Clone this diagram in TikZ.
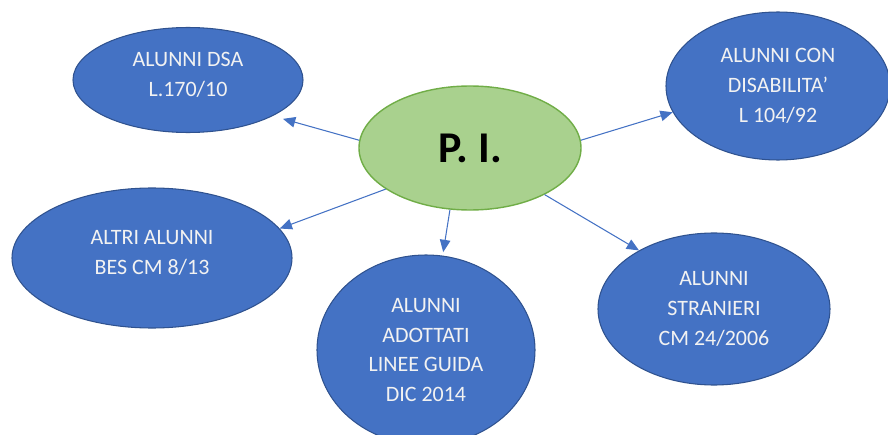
\documentclass[tikz,border=0pt]{standalone}
\usepackage{fontspec}
\setmainfont{Carlito}
\usepackage{xcolor}
\usetikzlibrary{shapes.geometric}
\usetikzlibrary{arrows.meta}

\definecolor{bluefill}{HTML}{4472C4}
\definecolor{blueline}{HTML}{2F528F}
\definecolor{greenfill}{HTML}{A9D18E}
\definecolor{greenline}{HTML}{70AD47}

\begin{document}
\begin{tikzpicture}[x=0.2mm,y=-0.2mm,
	cat/.style={ellipse,fill=bluefill,draw=blueline,line width=0.6pt,inner sep=0pt,
		text=white!95!black,align=center,font=\fontsize{12.5}{17}\selectfont},
	pivot/.style={ellipse,fill=greenfill,draw=greenline,line width=0.8pt,inner sep=0pt,
		font=\fontsize{25}{28}\selectfont\bfseries},
	arr/.style={draw=bluefill,line width=0.6pt,-{Triangle[length=7pt,width=6pt]}}]
\useasboundingbox (0,0) rectangle (888,435);

%centre
\node[pivot,minimum width=4.44cm,minimum height=2.48cm] (PI) at (470,148) {P. I.};

%categorie
\node[cat,minimum width=4.6cm,minimum height=2.1cm] (DSA) at (188,80) {ALUNNI DSA\\L.170/10\\[-11pt]};
\node[cat,minimum width=4.48cm,minimum height=2.96cm] (DIS) at (778,86) {ALUNNI CON\\DISABILITA’\\L 104/92};
\node[cat,minimum width=5.6cm,minimum height=2.8cm] (BES) at (152,258) {ALTRI ALUNNI\\BES CM 8/13\\[-11pt]};
\node[cat,minimum width=4.36cm,minimum height=3.8cm] (ADO) at (426,350) {ALUNNI\\ADOTTATI\\LINEE GUIDA\\DIC 2014};
\node[cat,minimum width=4.64cm,minimum height=3.04cm] (STR) at (714,309) {ALUNNI\\STRANIERI\\CM 24/2006};

%frecce
\draw[arr,shorten >=6pt] (PI.176) -- (DSA.-23);
\draw[arr] (PI.4) -- (DIS.194);
\draw[arr] (PI.206) -- (BES.13);
\draw[arr,shorten >=2pt] (PI.-108) -- (ADO.80);
\draw[arr] (PI.-32) -- (STR.142);

\end{tikzpicture}
\end{document}
